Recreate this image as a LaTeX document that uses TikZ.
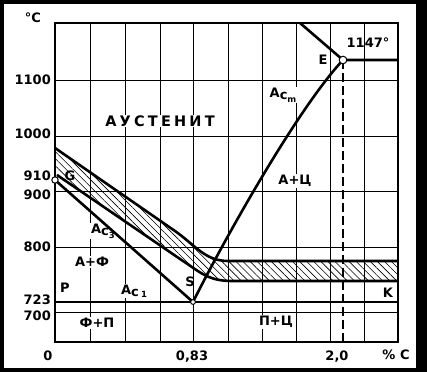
\documentclass[tikz,border=0pt]{standalone}
\usepackage{fontspec}
\setmainfont{DejaVu Sans}
\usetikzlibrary{patterns.meta}

\begin{document}
\begin{tikzpicture}[x=1pt,y=-1pt,
  font=\bfseries\fontsize{13}{15}\selectfont,
  gridline/.style={line width=0.7pt},
  curve/.style={line width=2.6pt, line join=round},
  area/.style={fill=white, inner sep=1pt},
  dot/.style={draw, fill=white, line width=1pt}]
  % frame of the figure
  \fill[black] (0,0) rectangle (427,372);
  \fill[white] (4,4) rectangle (416,368);
  \useasboundingbox (0,0) rectangle (427,372);

  % grid
  \foreach \x in {90,125,160,193,228,262,296,330,364}
    \draw[gridline] (\x,23) -- (\x,342);
  \foreach \y in {80,136,191,247,312}
    \draw[gridline] (55,\y) -- (398,\y);

  % axis texts
  \node at (33,18) {°C};
  \foreach \t/\y in {1100/80,1000/134,910/176,900/195,800/247,723/300,700/316}
    \node[anchor=east, inner sep=0pt] at (51,\y) {\t};
  \node at (48,356) {0};
  \node at (192,357) {0,83};
  \node at (337,357) {2,0};
  \node at (396,355) {\% C};

  % field texts
  \node[area] (aus) at (160,121) {\fontsize{14.5}{16}\selectfont\addfontfeature{LetterSpace=22}АУСТЕНИТ};
  \node[area] (ac) at (295,181) {А+Ц};
  \node[area] (af) at (92,262) {А+Ф};
  \node[area] (fp) at (97,323) {Ф+П};
  \node[area] (pc) at (276,322) {П+Ц};
  \node[area] (ac3) at (103,231) {A\raisebox{-0.35ex}{c\raisebox{-0.4ex}{\fontsize{8.5}{10}\selectfont 3}}};
  \node[area] (ac1) at (134,291) {A\raisebox{-0.35ex}{c\,\raisebox{-0.1ex}{\fontsize{8.5}{10}\selectfont 1}}};
  \node[area] (acm) at (283,95) {A\raisebox{-0.35ex}{c\raisebox{-0.4ex}{\fontsize{8.5}{10}\selectfont m}}};
  \node (lblP) at (65,288) {P};
  \node (lblK) at (388,293) {K};
  \node (lblG) at (70,176) {G};
  \node (lblS) at (190,282) {S};
  \node (lblE) at (323,60) {E};
  \node (lblT) at (368,43) {1147°};

  % points of the diagram
  \coordinate (G) at (55,180);
  \coordinate (S) at (193,302);
  \coordinate (E) at (343,60);
  \coordinate (Etop) at (300,23);
  \coordinate (Eend) at (398,60);
  \coordinate (Ebot) at (343,342);
  \coordinate (P) at (55,302);
  \coordinate (K) at (398,302);

  % hatched band
  \fill[pattern={Lines[angle=-45, distance=5pt, line width=0.6pt]}]
    (55,148) -- (175,231) .. controls (195,245) and (205,261) .. (228,261) -- (398,261)
    -- (398,281) -- (232,281) .. controls (208,281) and (200,272) .. (183,261) -- (57,175) -- cycle;
  \draw[curve] (55,148) -- (175,231) .. controls (195,245) and (205,261) .. (228,261) -- (398,261);
  \draw[curve] (57,175) -- (183,261) .. controls (200,272) and (208,281) .. (232,281) -- (398,281);

  % lines
  \draw[line width=1.2pt, dash pattern=on 9pt off 4pt] (E) -- (Ebot);
  \draw[curve] (P) -- (K);
  \draw[curve] (G) -- (S);
  \draw[curve] (S) .. controls (225,238) and (298,108) .. (E);
  \draw[curve] (Etop) -- (E) -- (Eend);
  \draw[line width=1.6pt] (55,23) rectangle (398,342);
  \draw[dot] (G) circle (3.2);
  \draw[dot] (E) circle (3.8);
  \draw[dot] (S) circle (2.4);
\end{tikzpicture}
\end{document}
